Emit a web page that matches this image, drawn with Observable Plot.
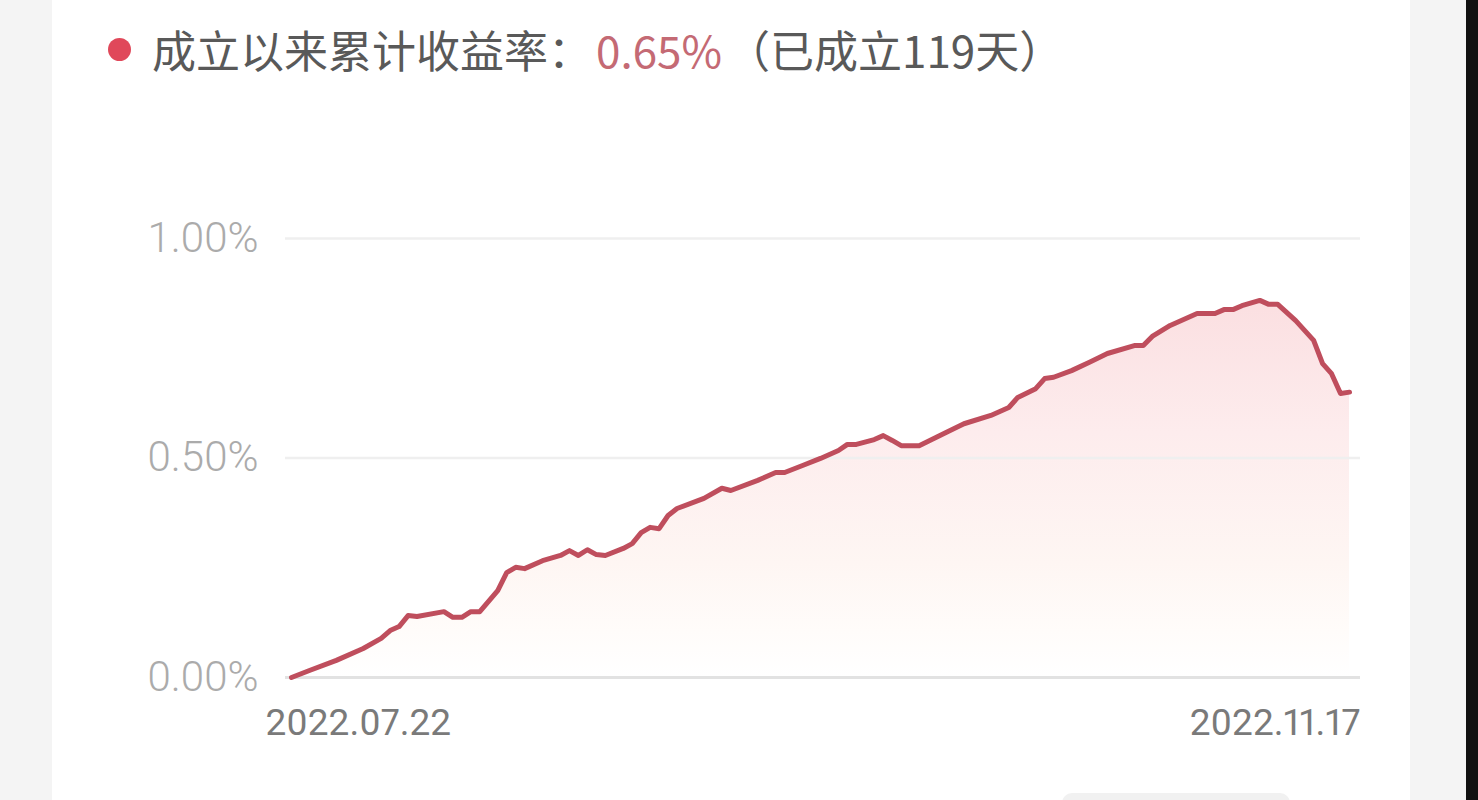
<!DOCTYPE html>
<html>
<head>
<meta charset="utf-8">
<script src="https://cdn.jsdelivr.net/npm/d3@7"></script>
<script src="https://cdn.jsdelivr.net/npm/@observablehq/plot@0.6"></script>
<style>
  html, body { margin: 0; padding: 0; }
  body { width: 1478px; height: 800px; background: #f4f4f4; position: relative; overflow: hidden; font-family: "Noto Sans CJK SC", "Noto Sans", sans-serif; }
  #card { position: absolute; left: 52px; top: 0; width: 1358px; height: 800px; background: #ffffff; }
  #edge { position: absolute; left: 1466px; top: 0; width: 12px; height: 800px; background: #111111; }
  #btn { position: absolute; left: 1062px; top: 793px; width: 228px; height: 20px; background: #f1f1f1; border-radius: 10px; }
  #title { position: absolute; left: 108px; top: 19px; height: 60px; line-height: 60px; font-size: 44px; color: #595959; white-space: nowrap; display: flex; align-items: center; }
  #dot { width: 23px; height: 23px; border-radius: 50%; background: #e0485a; margin-right: 21px; }
  #title .val { color: #c46a74; margin-left: 4px; margin-right: 4px; }
  #chart { position: absolute; left: 0; top: 150px; }
</style>
</head>
<body>
<div id="card"></div>
<div id="edge"></div>
<div id="btn"></div>
<div id="title"><span id="dot"></span><span>成立以来累计收益率：</span><span class="val">0.65%</span><span>（已成立119天）</span></div>
<div id="chart"></div>
<script>
// Data
const dates = [
  "2022-07-22","2022-07-24","2022-07-27","2022-07-30","2022-08-01","2022-08-02","2022-08-03","2022-08-04","2022-08-05",
  "2022-08-08","2022-08-09","2022-08-10","2022-08-11","2022-08-12","2022-08-14","2022-08-15","2022-08-16","2022-08-17",
  "2022-08-19","2022-08-21","2022-08-22","2022-08-23","2022-08-24","2022-08-25","2022-08-26","2022-08-28","2022-08-29",
  "2022-08-30","2022-08-31","2022-09-01","2022-09-02","2022-09-03","2022-09-06","2022-09-08","2022-09-09","2022-09-12",
  "2022-09-14","2022-09-15","2022-09-17","2022-09-19","2022-09-21","2022-09-22","2022-09-23","2022-09-25","2022-09-26",
  "2022-09-27","2022-09-28","2022-09-30","2022-10-03","2022-10-05","2022-10-08","2022-10-10","2022-10-11","2022-10-13",
  "2022-10-14","2022-10-15","2022-10-17","2022-10-19","2022-10-21","2022-10-24","2022-10-25","2022-10-26","2022-10-28",
  "2022-10-31","2022-11-02","2022-11-03","2022-11-04","2022-11-05","2022-11-07","2022-11-08","2022-11-09","2022-11-11",
  "2022-11-13","2022-11-14","2022-11-15","2022-11-16","2022-11-17"
];
const returns = [
  0.000,0.016,0.039,0.066,0.089,0.107,0.116,0.141,0.139,
  0.150,0.137,0.137,0.150,0.150,0.198,0.239,0.251,0.248,
  0.266,0.278,0.289,0.278,0.291,0.280,0.278,0.294,0.305,
  0.330,0.342,0.339,0.369,0.385,0.408,0.431,0.426,0.449,
  0.467,0.467,0.483,0.499,0.517,0.531,0.531,0.542,0.551,
  0.540,0.528,0.528,0.558,0.578,0.597,0.615,0.638,0.658,
  0.681,0.684,0.699,0.718,0.738,0.756,0.756,0.777,0.802,
  0.829,0.829,0.838,0.838,0.847,0.859,0.850,0.850,0.813,
  0.768,0.715,0.692,0.647,0.650
];
const yTicks = [0, 0.5, 1];
const xTickLabels = ["2022.07.22", "2022.11.17"];

const parse = d3.utcParse("%Y-%m-%d");
const data = dates.map((d, i) => ({date: parse(d), value: returns[i]}));
const xStart = parse(dates[0]);
const xEnd = parse(dates[dates.length - 1]);

const plot = Plot.plot({
  width: 1478,
  height: 620,
  marginLeft: 291,
  marginRight: 129,
  marginTop: 88,
  marginBottom: 93,
  style: {fontFamily: "Roboto, 'Noto Sans', sans-serif", background: "transparent", overflow: "visible"},
  x: {type: "utc", domain: [xStart, xEnd], label: null},
  y: {domain: [0, 1], label: null},
  marks: [
    Plot.areaY(data, {x: "date", y: "value", fill: "url(#fillGrad)", curve: "linear"}),
    Plot.ruleY([0.5, 1], {stroke: "#efefef", strokeWidth: 2.5, insetLeft: -6, insetRight: -11}),
    Plot.ruleY([0], {stroke: "#e2e2e2", strokeWidth: 3, insetLeft: -6, insetRight: -11}),
    Plot.lineY(data, {x: "date", y: "value", stroke: "#bf4e5d", strokeWidth: 5, strokeLinejoin: "round", strokeLinecap: "round"}),
    Plot.axisY({ticks: yTicks, tickFormat: d => d.toFixed(2) + "%", tickSize: 0, tickPadding: 33, fontSize: 42, color: "#ababab", fontWeight: 300, label: null}),
    Plot.axisX({ticks: [xStart], tickFormat: d => xTickLabels[0], tickSize: 0, tickPadding: 31, fontSize: 37, color: "#7a7a7a", textAnchor: "start", dx: -26, fontVariant: "proportional-nums", label: null}),
    Plot.axisX({ticks: [xEnd], tickFormat: d => xTickLabels[1], tickSize: 0, tickPadding: 31, fontSize: 37, color: "#7a7a7a", textAnchor: "end", dx: 11, fontVariant: "proportional-nums", label: null})
  ]
});

const svg = d3.select(plot);
const defs = svg.insert("defs", ":first-child");
const grad = defs.append("linearGradient").attr("id", "fillGrad")
  .attr("x1", 0).attr("y1", 0).attr("x2", 0).attr("y2", 1);
[[0, "#fbdfe1"], [0.35, "#fdeced"], [0.7, "#fef6f3"], [0.88, "#fffcfa"], [1, "#ffffff"]].forEach(([o, c]) =>
  grad.append("stop").attr("offset", o).attr("stop-color", c));

document.getElementById("chart").appendChild(plot);
</script>
</body>
</html>
